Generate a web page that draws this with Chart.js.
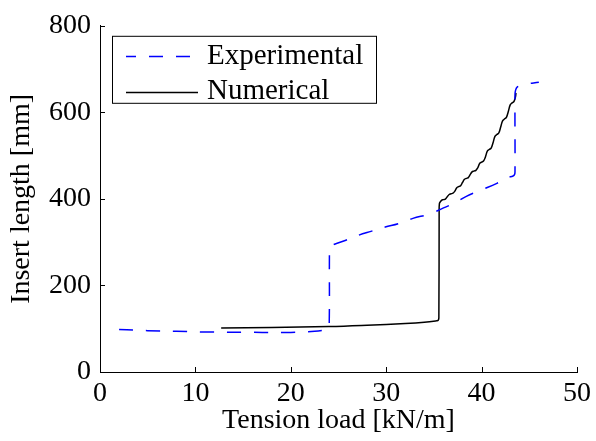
<!DOCTYPE html>
<html>
<head>
<meta charset="utf-8">
<script src="https://cdn.jsdelivr.net/npm/chart.js@4.4.1/dist/chart.umd.min.js"></script>
<style>
  html, body { margin: 0; padding: 0; background: #fff; }
  canvas { display: block; }
</style>
</head>
<body>
<canvas id="c" width="596" height="441"></canvas>
<script>
// Series labels
const seriesNames = ['Experimental', 'Numerical'];

// Experimental: tension load [kN/m] vs insert length [mm]
const expLoad = [2.0, 3.6, 5.0, 8.0, 11.0, 14.0, 17.0, 20.0, 21.2, 22.5,
                 23.5, 23.9, 24.02, 24.05, 24.08, 24.2, 24.4, 25.7, 27.1, 28.4,
                 29.9, 31.3, 32.8, 34.4, 35.1, 35.8, 37.1, 38.4, 40.0, 41.6,
                 42.7, 43.3, 43.45, 43.5, 43.5, 43.55, 43.75, 44.5, 46.0];
const expLength = [98, 97, 95.5, 94, 92.5, 92, 91.5, 91.5, 92.4, 94,
                   96.5, 98.3, 101, 280, 290, 292.5, 294, 304, 316, 325,
                   335, 343, 355, 364, 370, 377, 390, 406, 421, 436,
                   449, 453, 456, 462, 640, 650, 659, 665, 669.5];

// Numerical: tension load [kN/m] vs insert length [mm]
const numLoad = [12.7, 18, 24, 28, 32, 34, 35.3, 35.45, 35.52, 35.55,
                 35.57, 35.6, 35.8, 36.0, 36.2, 36.4, 36.6, 36.8, 37.0, 37.2,
                 37.4, 37.6, 37.8, 38.0, 38.2, 38.4, 38.6, 38.8, 39.0, 39.2,
                 39.4, 39.6, 39.8, 40.0, 40.2, 40.4, 40.6, 40.8, 41.0, 41.2,
                 41.4, 41.6, 41.8, 42.0, 42.2, 42.4, 42.6, 42.8, 43.0, 43.2,
                 43.4, 43.55, 43.6];
const numLength = [101.5, 103, 105, 108, 112, 115, 118.5, 119.5, 125, 380,
                   387, 391, 396.6, 398.3, 399.7, 405, 410.2, 411.8, 413.1, 418,
                   426, 428.4, 430.4, 438, 445.2, 447.4, 449.2, 456, 462.4, 464.3,
                   465.9, 472, 482, 485, 487.5, 497, 510.2, 514.2, 517.5, 530,
                   544.4, 548.7, 552.3, 566, 580.4, 584.7, 588.3, 602, 617.2, 621.8,
                   625.6, 636, 645];

// Axis ranges and tick spacing
const xRange = [0, 50], xStep = 10;
const yRange = [0, 800], yStep = 200;
const xTitle = 'Tension load [kN/m]';
const yTitle = 'Insert length [mm]';

const FONT = '"Liberation Serif", "Times New Roman", serif';
const toPoints = (xs, ys) => xs.map((v, i) => ({ x: v, y: ys[i] }));

// Inward tick marks and a boxed legend in the upper-left of the plot
const axesAndLegend = {
  id: 'axesAndLegend',
  afterDraw(chart) {
    const { ctx, chartArea: a, scales: { x, y } } = chart;
    ctx.save();
    ctx.strokeStyle = '#000';
    ctx.lineWidth = 1;
    ctx.setLineDash([]);
    ctx.beginPath();
    x.ticks.forEach(t => {
      const px = Math.round(x.getPixelForValue(t.value)) + 0.5;
      ctx.moveTo(px, a.bottom);
      ctx.lineTo(px, a.bottom - 5);
    });
    y.ticks.forEach(t => {
      const py = Math.round(y.getPixelForValue(t.value)) + 0.5;
      ctx.moveTo(a.left, py);
      ctx.lineTo(a.left + 5, py);
    });
    ctx.stroke();

    const bx = a.left + 12, by = a.top + 10, bw = 264, bh = 67;
    ctx.fillStyle = '#fff';
    ctx.fillRect(bx, by, bw, bh);
    ctx.strokeRect(bx + 0.5, by + 0.5, bw, bh);
    ctx.font = '29px ' + FONT;
    ctx.textBaseline = 'middle';
    ctx.textAlign = 'left';
    chart.data.datasets.forEach((ds, i) => {
      const ly = by + 20.5 + i * 35.5;
      ctx.strokeStyle = ds.borderColor;
      ctx.lineWidth = ds.borderWidth;
      ctx.setLineDash(ds.borderDash || []);
      ctx.lineDashOffset = ds.borderDash ? 4 : 0;
      ctx.beginPath();
      ctx.moveTo(bx + 14, Math.round(ly) + 0.5);
      ctx.lineTo(bx + 86, Math.round(ly) + 0.5);
      ctx.stroke();
      ctx.setLineDash([]);
      ctx.fillStyle = '#000';
      ctx.fillText(ds.label, bx + 95, ly);
    });
    ctx.restore();
  }
};

new Chart(document.getElementById('c'), {
  type: 'scatter',
  data: {
    datasets: [
      {
        label: seriesNames[0],
        data: toPoints(expLoad, expLength),
        showLine: true,
        borderColor: '#0000ff',
        borderWidth: 1.5,
        borderDash: [14, 13],
        pointRadius: 0,
        tension: 0.4,
        fill: false
      },
      {
        label: seriesNames[1],
        data: toPoints(numLoad, numLength),
        showLine: true,
        borderColor: '#000000',
        borderWidth: 1.5,
        pointRadius: 0,
        tension: 0.4,
        fill: false
      }
    ]
  },
  plugins: [axesAndLegend],
  options: {
    responsive: false,
    animation: false,
    events: [],
    layout: { padding: { left: 0, right: 17, top: 23, bottom: 0 } },
    plugins: { legend: { display: false }, tooltip: { enabled: false } },
    scales: {
      x: {
        type: 'linear',
        min: xRange[0], max: xRange[1],
        ticks: { stepSize: xStep, color: '#000', font: { family: FONT, size: 28 }, padding: 5, maxRotation: 0 },
        grid: { display: true, drawOnChartArea: false, drawTicks: false },
        border: { display: true, color: '#000', width: 1 },
        title: { display: true, text: xTitle, color: '#000', font: { family: FONT, size: 28 }, padding: { top: 0, bottom: 4 } },
        afterFit(s) { s.height = 69; }
      },
      y: {
        type: 'linear',
        min: yRange[0], max: yRange[1],
        ticks: { stepSize: yStep, color: '#000', font: { family: FONT, size: 28 }, padding: 9 },
        grid: { display: true, drawOnChartArea: false, drawTicks: false },
        border: { display: true, color: '#000', width: 1 },
        title: { display: true, text: yTitle, color: '#000', font: { family: FONT, size: 28 }, padding: { top: 5, bottom: 0 } },
        afterFit(s) { s.width = 100; }
      }
    }
  }
});
</script>
</body>
</html>
